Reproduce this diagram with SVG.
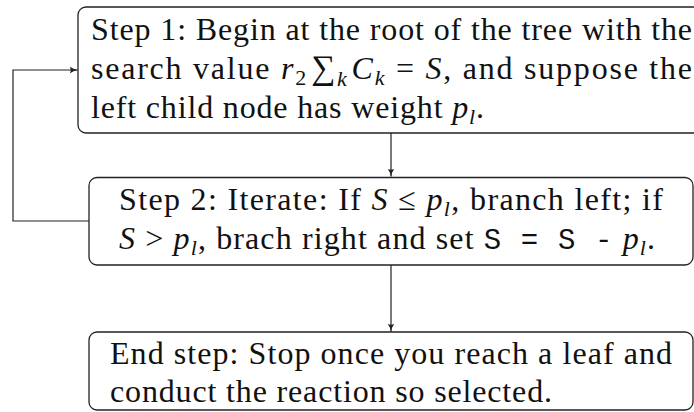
<svg xmlns="http://www.w3.org/2000/svg" width="694" height="412" viewBox="0 0 694 412">
<style>
.box{fill:#fff;stroke:#222;stroke-width:1.3}
.t{font-family:"Liberation Serif","DejaVu Serif",serif;font-size:32px;fill:#111}
.i{font-style:italic}
.s{font-size:22px}
.m{font-family:"Liberation Mono","DejaVu Sans Mono",monospace;font-size:29px}
.c{fill:none;stroke:#222;stroke-width:1.2}
</style>
<defs>
<marker id="ah" viewBox="0 0 10 10" refX="9.5" refY="5" markerWidth="8" markerHeight="8" markerUnits="userSpaceOnUse" orient="auto">
<path d="M0,1 Q4,4 10,5 Q4,6 0,9 Q2,5 0,1Z" fill="#222"/>
</marker>
</defs>
<g id="connectors">
<path class="c" d="M391,133 V176.5" marker-end="url(#ah)"/>
<path class="c" d="M391,265 V331.5" marker-end="url(#ah)"/>
<path class="c" d="M89,221 H13 V70 H77.5" marker-end="url(#ah)"/>
</g>
<g id="step1">
<rect class="box" x="78" y="7" width="630" height="126" rx="8"/>
<text class="t" x="91" y="40" textLength="601" lengthAdjust="spacing">Step 1: Begin at the root of the tree with the</text>
<text class="t" x="91" y="79" textLength="601" lengthAdjust="spacing">search value <tspan class="i">r</tspan><tspan class="s" dy="6">2</tspan><tspan dy="-6" dx="3" font-size="34">∑</tspan><tspan class="s i" dy="7">k</tspan><tspan class="i" dy="-7" dx="3">C</tspan><tspan class="s i" dy="6">k</tspan><tspan dy="-6"> = </tspan><tspan class="i">S</tspan>, and suppose the</text>
<text class="t" x="91" y="118" textLength="393" lengthAdjust="spacing">left child node has weight <tspan class="i">p</tspan><tspan class="s i" dy="6">l</tspan><tspan dy="-6">.</tspan></text>
</g>
<g id="step2">
<rect class="box" x="89" y="177.5" width="604" height="87.5" rx="8"/>
<text class="t" x="119" y="210" textLength="544" lengthAdjust="spacing">Step 2: Iterate: If <tspan class="i">S</tspan> ≤ <tspan class="i">p</tspan><tspan class="s i" dy="6">l</tspan><tspan dy="-6">, branch left; if</tspan></text>
<text class="t" x="119" y="249" textLength="536" lengthAdjust="spacing"><tspan class="i">S</tspan> &gt; <tspan class="i">p</tspan><tspan class="s i" dy="6">l</tspan><tspan dy="-6">, brach right and set </tspan><tspan class="m">S = S -</tspan> <tspan class="i">p</tspan><tspan class="s i" dy="6">l</tspan><tspan dy="-6">.</tspan></text>
</g>
<g id="end">
<rect class="box" x="89" y="332" width="604" height="78" rx="8"/>
<text class="t" x="110" y="364" textLength="562" lengthAdjust="spacing">End step: Stop once you reach a leaf and</text>
<text class="t" x="110" y="402" textLength="442" lengthAdjust="spacing">conduct the reaction so selected.</text>
</g>
</svg>
